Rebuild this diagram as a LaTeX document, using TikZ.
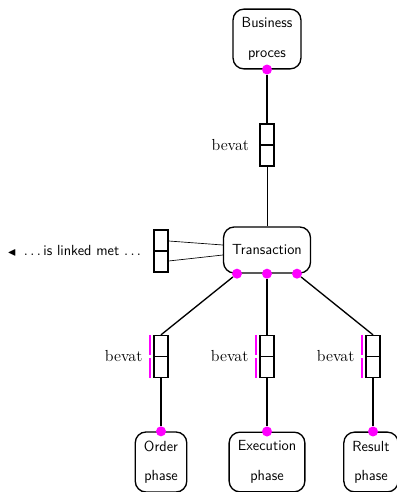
\documentclass[tikz,border=0pt]{standalone}
\usepackage{amssymb}
\usepackage{xcolor}
\usepackage{tikz}
\usetikzlibrary{
  positioning,
  calc
}
\definecolor{ormmagenta}{RGB}{255,0,255}
\tikzset{
  object/.style={
    draw,
    line width=1pt,
    rounded corners=8pt,
    font=\sffamily\fontsize{11pt}{13pt}\selectfont,
    align=center,
    inner xsep=6.5pt,
    inner ysep=6.5pt},
  role/.style={
    draw,
    line width=1pt,
    minimum width=10.5pt,
    minimum height=31.5pt,
    inner sep=0pt,
    path picture={\draw [line width=1pt] (path picture bounding box.west) -- (path picture bounding box.east);}},
  roledot/.style={
    circle,
    fill=ormmagenta,
    inner sep=0pt,
    minimum size=7.5pt},
  rolename/.style={
    font=\rmfamily\large,
    inner sep=0pt},
  uniq/.style={
    color=ormmagenta,
    line width=1.3pt},
  link/.style={line width=1pt},
  thinlink/.style={line width=0.5pt}
  }

\begin{document}
\begin{tikzpicture}[x=0.75pt, y=0.75pt]
		\useasboundingbox (0,0) rectangle (396,-492);
		\node [object] (bp) at (267,-39) {Business\\[9pt]proces};
		\node [object, minimum height=34.5pt] (tr) at (267,-250) {Transaction};
		\node [object] (op) at (161,-462) {Order\\[9pt]phase};
		\node [object] (ep) at (267,-462) {Execution\\[9pt]phase};
		\node [object] (rp) at (371,-462) {Result\\[9pt]phase};
		\node [role] (bevat0) at (267,-145) {};
		\node [role] (linked) at (161,-251) {};
		\node [role] (bevat1) at (161,-356.5) {};
		\node [role] (bevat2) at (267,-356.5) {};
		\node [role] (bevat3) at (373,-356.5) {};
		\node [rolename, left=7.5pt of bevat0] (bevat0lbl) {bevat};
		\node [rolename, left=8pt of bevat1] (bevat1lbl) {bevat};
		\node [rolename, left=8pt of bevat2] (bevat2lbl) {bevat};
		\node [rolename, left=8pt of bevat3] (bevat3lbl) {bevat};
		\node [font=\sffamily\fontsize{11pt}{13pt}\selectfont, inner sep=0pt, left=9pt of linked] (linkedlbl) {$\scriptstyle\blacktriangleleft$\enspace$\ldots$\,is linked met $\ldots$};
		\node [roledot] (bpdot) at (bp.south) {};
		\node [roledot] (trdot1) at ([xshift=-22.5pt]tr.south) {};
		\node [roledot] (trdot2) at (tr.south) {};
		\node [roledot] (trdot3) at ([xshift=22.5pt]tr.south) {};
		\node [roledot] (opdot) at (op.north) {};
		\node [roledot] (epdot) at (ep.north) {};
		\node [roledot] (rpdot) at (rp.north -| bevat3) {};
		\draw [link] (bpdot) to (bevat0);
		\draw [thinlink] (bevat0) to (tr);
		\draw [thinlink] ([yshift=7.5pt]linked.east) to ([yshift=3.75pt]tr.west);
		\draw [thinlink] ([yshift=-7.5pt]linked.east) to ([yshift=-3.75pt]tr.west);
		\draw [link] (trdot1) to (bevat1.north);
		\draw [link] (trdot2) to (bevat2.north);
		\draw [link] (trdot3) to (bevat3.north);
		\draw [link] (bevat1) to (opdot);
		\draw [link] (bevat2) to (epdot);
		\draw [link] (bevat3) to (rpdot);
		\draw [uniq] ([xshift=-2.5pt]bevat1.north west) to ([xshift=-2.5pt, yshift=1.2pt]bevat1.west);
		\draw [uniq] ([xshift=-2.5pt, yshift=-1.2pt]bevat1.west) to ([xshift=-2.5pt]bevat1.south west);
		\draw [uniq] ([xshift=-2.5pt]bevat2.north west) to ([xshift=-2.5pt, yshift=1.2pt]bevat2.west);
		\draw [uniq] ([xshift=-2.5pt, yshift=-1.2pt]bevat2.west) to ([xshift=-2.5pt]bevat2.south west);
		\draw [uniq] ([xshift=-2.5pt]bevat3.north west) to ([xshift=-2.5pt, yshift=1.2pt]bevat3.west);
		\draw [uniq] ([xshift=-2.5pt, yshift=-1.2pt]bevat3.west) to ([xshift=-2.5pt]bevat3.south west);
	\end{tikzpicture}
\end{document}
